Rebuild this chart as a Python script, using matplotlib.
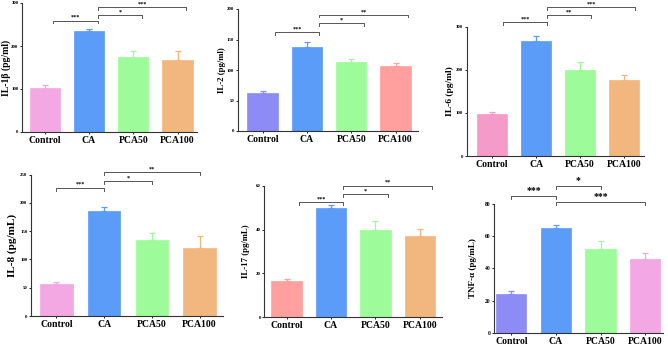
import matplotlib
matplotlib.use("Agg")
import matplotlib.pyplot as plt

W, H = 668, 346
serif = ['Liberation Serif', 'DejaVu Serif']

groups = ['Control', 'CA', 'PCA50', 'PCA100']

il1b = [103, 234, 174, 168]
il1b_sd = [6, 6, 14, 20]
il2 = [63, 138, 113, 106]
il2_sd = [3, 8, 5.5, 5.5]
il6 = [97, 267, 199, 177]
il6_sd = [6, 12, 19, 11]
il8 = [57, 185, 135, 121]
il8_sd = [2.5, 8, 11, 20]
il17 = [16.5, 49.8, 39.9, 37.0]
il17_sd = [1.0, 1.2, 3.8, 3.3]
tnf = [24.2, 65.2, 51.8, 45.6]
tnf_sd = [1.8, 2.0, 5.0, 3.7]

# significance brackets: (group a, group b, height, label)
sig_il1b = [(0, 1, 259, '***'), (1, 2, 272, '*'), (1, 3, 290, '***')]
sig_il2 = [(0, 1, 162, '***'), (1, 2, 176.5, '*'), (1, 3, 190.6, '**')]
sig_il6 = [(0, 1, 311, '***'), (1, 2, 326, '**'), (1, 3, 345, '***')]
sig_il8 = [(0, 1, 227, '***'), (1, 2, 239, '*'), (1, 3, 255, '**')]
sig_il17 = [(0, 1, 52.5, '***'), (1, 2, 56, '*'), (1, 3, 60, '**')]
sig_tnf = [(0, 1, 85, '***'), (1, 2, 91.3, '*'), (1, 3, 81.2, '***')]

blue = '#5A9CF8'
green = '#9EFB9A'
orange = '#F2B77F'
pink = '#F3A8E3'
purple = '#8D8CF7'
salmon = '#FFA09E'
rose = '#F59BC9'

fig = plt.figure(figsize=(W / 100, H / 100), dpi=100)


def panel(x0, x1, y0, ytop, xl, ymax, ystep, vals, sd, colors, sig, ylabel,
          shift=0.0, lab_fs=7, tick_fs=3.5, star_fs=4.5, lab_pad=1):
    ax = fig.add_axes([x0 / W, 1 - y0 / H, (x1 - x0) / W, (y0 - ytop) / H])
    xs = range(len(groups))
    for i in xs:
        ax.bar(i, vals[i], width=0.68, color=colors[i], edgecolor=colors[i],
               linewidth=0.5, zorder=2)
        ax.errorbar(i, vals[i], yerr=[[0], [sd[i]]], color=colors[i],
                    capsize=2.5, elinewidth=0.9, capthick=0.9, zorder=3)
    ax.set_xlim(xl)
    ax.set_ylim(0, ymax)
    ax.set_yticks([v * ystep for v in range(int(ymax / ystep) + 1)])
    ax.set_xticks(list(xs))
    ax.set_xticklabels(groups, fontfamily=serif, fontweight='bold', fontsize=7)
    for t in ax.get_yticklabels():
        t.set_fontfamily(serif)
        t.set_fontweight('bold')
    ax.tick_params(axis='y', labelsize=tick_fs, length=1.5, width=0.6, pad=1)
    ax.tick_params(axis='x', length=1.5, width=0.6, pad=1.5)
    for s in ['top', 'right']:
        ax.spines[s].set_visible(False)
    for s in ['left', 'bottom']:
        ax.spines[s].set_linewidth(0.8)
        ax.spines[s].set_color('#333333')
    ax.set_ylabel(ylabel, fontfamily=serif, fontweight='bold', fontsize=lab_fs,
                  labelpad=lab_pad)
    tick = ymax * 0.022
    for a, b, y, lab in sig:
        xa, xb = a + shift, b + shift
        ax.plot([xa, xa, xb, xb], [y - tick, y, y, y - tick], color='#555555',
                lw=0.7, clip_on=False)
        ax.text((xa + xb) / 2, y + ymax * 0.005, lab, ha='center', va='bottom',
                fontsize=star_fs, fontweight='bold', family=serif, clip_on=False)
    return ax


panel(22, 197, 132, 3, (-0.51, 3.44), 300, 100, il1b, il1b_sd,
      [pink, blue, green, orange], sig_il1b, 'IL-1β (pg/ml)', shift=0.2,
      lab_pad=0.5)
panel(237.7, 417.7, 131, 9, (-0.56, 3.5), 200, 50, il2, il2_sd,
      [purple, blue, green, salmon], sig_il2, 'IL-2 (pg/ml)', shift=0.28,
      lab_fs=6.3, lab_pad=1)
panel(466.7, 644, 156, 26.7, (-0.575, 3.45), 300, 100, il6, il6_sd,
      [rose, blue, green, orange], sig_il6, 'IL-6 (pg/ml)', shift=0.25,
      lab_fs=6.8, lab_pad=1.5)
panel(31, 223, 316, 174.7, (-0.53, 3.49), 250, 50, il8, il8_sd,
      [pink, blue, green, orange], sig_il8, 'IL-8 (pg/mL)', lab_fs=8,
      lab_pad=2.5)
panel(264.3, 441.7, 317.3, 185.7, (-0.5, 3.49), 60, 20, il17, il17_sd,
      [salmon, blue, green, orange], sig_il17, 'IL-17 (pg/mL)', shift=0.28,
      lab_fs=6.3, lab_pad=4.5)
panel(494.3, 663, 332.7, 204, (-0.38, 3.4), 80, 20, tnf, tnf_sd,
      [purple, blue, green, pink], sig_tnf, 'TNF-α (pg/mL)', lab_fs=6.5,
      tick_fs=4, star_fs=7, lab_pad=6)

fig.savefig('out.png', dpi=100, facecolor='white')
